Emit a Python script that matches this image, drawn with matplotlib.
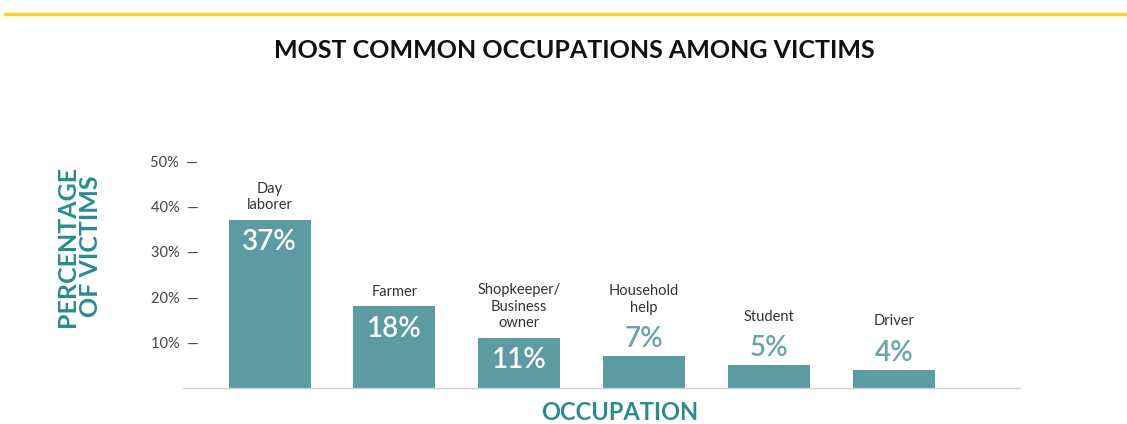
import numpy as np
import matplotlib.pyplot as plt
from matplotlib.lines import Line2D

# data
occupations = ['Day\nlaborer', 'Farmer', 'Shopkeeper/\nBusiness\nowner',
               'Household\nhelp', 'Student', 'Driver']
shares = [37, 18, 11, 7, 5, 4]
inside = [True, True, True, False, False, False]
yticks = [10, 20, 30, 40, 50]

bar_color = '#5b9ba1'
teal = '#2b8b8f'
plt.rcParams['font.family'] = ['Lato', 'DejaVu Sans']

fig = plt.figure(figsize=(11.27, 4.24), dpi=100)
ax = fig.add_axes([183 / 1127, 36 / 424, 837 / 1127, 236 / 424])

x = np.arange(len(shares))
bars = ax.bar(x, shares, width=0.657, color=bar_color)
ax.set_xlim(-0.693, 6.01)
ax.set_ylim(0, 52)

# labels on / above each bar
for xi, val, name, ins in zip(x, shares, occupations, inside):
    if ins:
        ax.annotate(f'{val}%', (xi, val), xytext=(0, -16), textcoords='offset points',
                    ha='center', va='center', color='white', fontsize=20,
                    fontweight='semibold')
        ax.annotate(name, (xi, val), xytext=(0, 5.5), textcoords='offset points',
                    ha='center', va='bottom', color='#333333', fontsize=10.5,
                    linespacing=1.25)
    else:
        ax.annotate(f'{val}%', (xi, val), xytext=(0, 3), textcoords='offset points',
                    ha='center', va='bottom', color='#6aa3a8', fontsize=20,
                    fontweight='semibold')
        ax.annotate(name, (xi, val), xytext=(0, 30), textcoords='offset points',
                    ha='center', va='bottom', color='#333333', fontsize=10.5,
                    linespacing=1.25)

# axis styling
for s in ['top', 'right', 'left']:
    ax.spines[s].set_visible(False)
ax.spines['bottom'].set_color('#cfcfcf')
ax.spines['bottom'].set_linewidth(1)
ax.set_xticks([])
ax.set_yticks(yticks)
ax.set_yticklabels([f'{t}%  \u2014' for t in yticks], color='#444444', fontsize=10.5)
ax.tick_params(axis='y', length=0, pad=-11)

# title, axis titles, top rule
fig.text(574 / 1127, 1 - 50 / 424, 'MOST COMMON OCCUPATIONS AMONG VICTIMS',
         ha='center', va='center', fontsize=18, fontweight='bold', color='#111111')
fig.text(79 / 1127, 1 - 246 / 424, 'PERCENTAGE\nOF VICTIMS', rotation=90,
         ha='center', va='center', multialignment='center', fontsize=18,
         fontweight='bold', color=teal, linespacing=1.05)
fig.text(620 / 1127, 1 - 413 / 424, 'OCCUPATION', ha='center', va='center',
         fontsize=17, fontweight='bold', color=teal)
fig.add_artist(Line2D([5 / 1127, 1], [1 - 14 / 424] * 2, color='#f4d62a', linewidth=2.5,
                      transform=fig.transFigure))

fig.savefig('out.png', dpi=100)
